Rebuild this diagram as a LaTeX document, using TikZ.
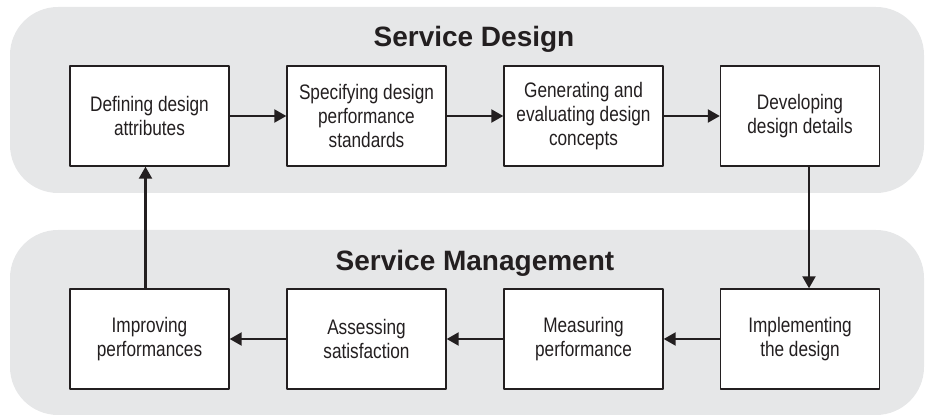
\documentclass[tikz,border=0pt]{standalone}
\usepackage{fontspec}
\setmainfont{Liberation Sans}
\newfontfamily\narrowfont{Liberation Sans}[FakeStretch=0.82]
\usetikzlibrary{positioning,arrows.meta}
\definecolor{bandgray}{RGB}{230,231,232}
\definecolor{ink}{RGB}{35,31,32}
\tikzset{
  box/.style={draw=ink, line width=0.7pt, fill=white, minimum width=79.5pt, minimum height=50pt,
    inner sep=2pt, align=center, text=ink, font=\narrowfont\fontsize{10.5}{12}\selectfont},
  band/.style={fill=bandgray, rounded corners=24pt},
  flow/.style={->, line width=1.1pt, draw=ink},
  title/.style={anchor=base, text=ink, font=\fontsize{14}{16}\selectfont\bfseries}
}
\begin{document}
\begin{tikzpicture}[x=0.5pt, y=0.5pt, >={Triangle[length=6pt,width=6.5pt]}, line join=round]
	\useasboundingbox (0,0) rectangle (927,416);
	% the two bands
	\fill[band] (10,223) rectangle (924,409);
	\fill[band] (10,1) rectangle (924,186);
	\node[title] (designtitle) at (474,369) {Service Design};
	\node[title] (managetitle) at (475,145) {Service Management};
	% upper row
	\node[box] (define) at (149.5,300) {Defining design\\attributes};
	\node[box] (specify) at (366.5,300) {Specifying design\\performance\\standards};
	\node[box] (generate) at (583.5,300) {Generating and\\evaluating design\\concepts};
	\node[box] (develop) at (800,300) {Developing\\design details};
	% lower row
	\node[box] (improve) at (149.5,77) {Improving\\performances};
	\node[box] (assess) at (366.5,77) {Assessing\\satisfaction};
	\node[box] (measure) at (583.5,77) {Measuring\\performance};
	\node[box] (implement) at (800,77) {Implementing\\the design};
	% connectors
	\draw[flow] (define) -- (specify);
	\draw[flow] (specify) -- (generate);
	\draw[flow] (generate) -- (develop);
	\draw[flow] ([xshift=4.5pt]develop.south) -- ([xshift=4.5pt]implement.north);
	\draw[flow] (implement) -- (measure);
	\draw[flow] (measure) -- (assess);
	\draw[flow] (assess) -- (improve);
	\draw[flow] ([xshift=-2pt]improve.north) -- ([xshift=-2pt]define.south);
\end{tikzpicture}
\end{document}
